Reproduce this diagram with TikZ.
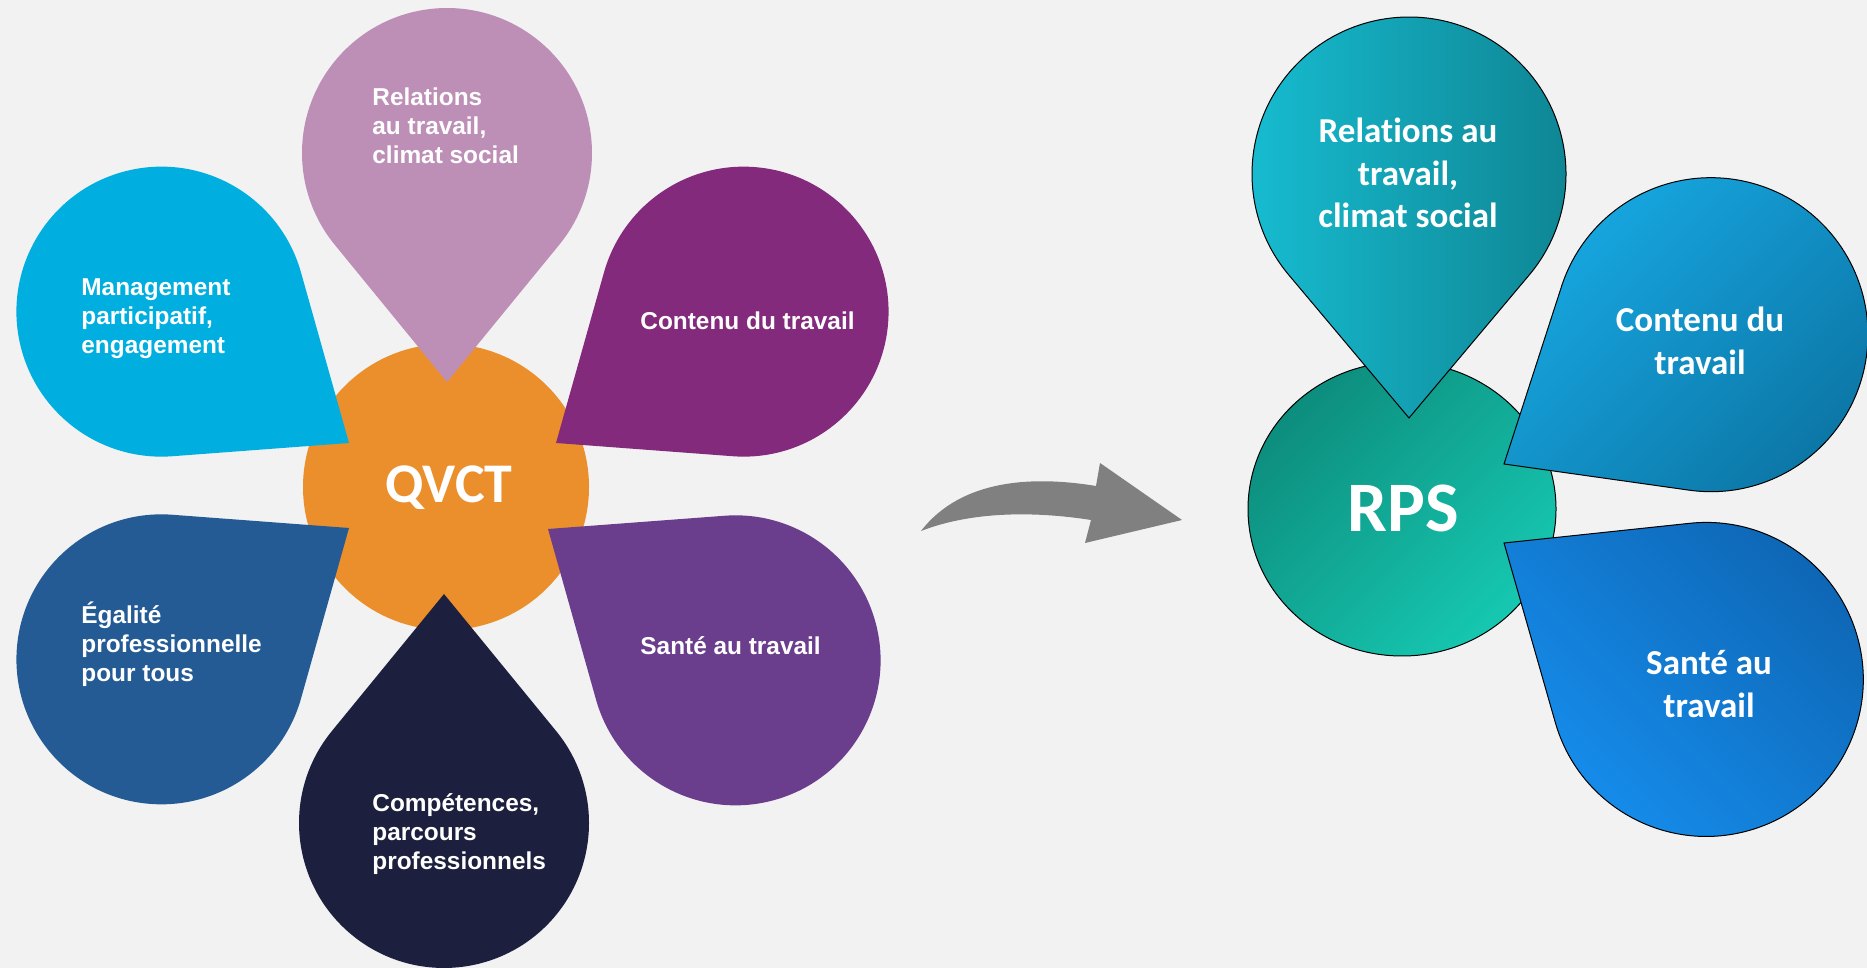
\documentclass[tikz,border=0pt]{standalone}
\usepackage{fontspec}
\newfontfamily\arialfont{Liberation Sans}
\newfontfamily\calibrifont{Carlito}[Ligatures={NoCommon}]
\usetikzlibrary{math}

\definecolor{bgcol}{HTML}{F2F2F2}
\definecolor{qvctorange}{HTML}{EB8F2D}
\definecolor{relcol}{HTML}{BD8FB6}
\definecolor{contcol}{HTML}{832A7C}
\definecolor{mgmtcol}{HTML}{00AEE0}
\definecolor{egalcol}{HTML}{245B95}
\definecolor{santecol}{HTML}{6A3E8C}
\definecolor{compcol}{HTML}{1C1F3E}
\definecolor{arrowgrey}{HTML}{808080}
\definecolor{rpsdark}{HTML}{0D8D7D}
\definecolor{rpslight}{HTML}{16C8B1}
\definecolor{relleft}{HTML}{17BDD2}
\definecolor{relright}{HTML}{0E8391}
\definecolor{contlight}{HTML}{17A9E3}
\definecolor{contdark}{HTML}{0C76A6}
\definecolor{santelight}{HTML}{168FEF}
\definecolor{santedark}{HTML}{0E66B4}

% drop with its tip at the origin, pointing back along the x axis
\newcommand{\droppath}[3]{(0,0) -- (-#3:{#1*cos(#3)}) arc[start angle={-90-#3}, end angle={90+#3}, radius=#2] -- cycle}

\tikzset{
  oldtext/.style={text=white, inner sep=0pt, align=left, anchor=base west,
    font=\arialfont\bfseries\fontsize{12.2}{14.4}\selectfont},
  newtext/.style={text=white, inner sep=0pt, align=center, anchor=base,
    font=\calibrifont\bfseries\fontsize{17.5}{21.25}\selectfont},
  newdrop/.style={draw=black, line width=0.5pt},
}

\begin{document}
\begin{tikzpicture}[x=0.5pt, y=0.5pt]
      \tikzmath{\distL = 229; \radL = 145; \tipL = asin(\radL/\distL);
                \distR = 244; \radR = 157; \tipR = asin(\radR/\distR);}
      \fill[bgcol] (0,0) rectangle (1867,968);
      \useasboundingbox (0,0) rectangle (1867,968);
      % QVCT flower
      \fill[qvctorange] (446,481) circle (143);
      \fill[relcol, shift={(447,586)}, rotate=90] \droppath{\distL}{\radL}{\tipL};
      \fill[contcol, shift={(556,525)}, rotate=35] \droppath{\distL}{\radL}{\tipL};
      \fill[mgmtcol, shift={(349,525)}, rotate=145] \droppath{\distL}{\radL}{\tipL};
      \fill[egalcol, shift={(349,440)}, rotate=215] \droppath{\distL}{\radL}{\tipL};
      \fill[santecol, shift={(548,439)}, rotate=-35] \droppath{\distL}{\radL}{\tipL};
      \fill[compcol, shift={(444,374)}, rotate=-90] \droppath{\distL}{\radL}{\tipL};
      \node[font=\calibrifont\bfseries\fontsize{28}{32}\selectfont, text=white, inner sep=0pt, anchor=base] (qvct) at (449,465) {QVCT};
      % base of a multi-line node = its last line
      \node[oldtext] (relations) at (372,804.4) {Relations\\au travail,\\climat social};
      \node[oldtext] (management) at (81,614.4) {Management\\participatif,\\engagement};
      \node[oldtext] (contenu) at (640,638) {Contenu du travail};
      \node[oldtext] (egalite) at (81,286.4) {Égalité\\professionnelle\\pour tous};
      \node[oldtext] (sante) at (640,313) {Santé au travail};
      \node[oldtext] (competences) at (372,98.4) {Compétences,\\parcours\\professionnels};
      % arrow
      \fill[arrowgrey] (921,437) .. controls (962,490) and (1035,492) .. (1096,482)
        -- (1100,505) -- (1182,448) -- (1085,425) -- (1091,448)
        .. controls (1040,456) and (975,458) .. (921,437) -- cycle;
      % RPS flower
      \path[newdrop, top color=rpsdark, bottom color=rpslight, shading angle=45] (1402,459) ellipse [x radius=154, y radius=147];
      \path[newdrop, left color=relleft, right color=relright, shift={(1409,550)}, rotate=90] \droppath{\distR}{\radR}{\tipR};
      \path[newdrop, top color=contlight, bottom color=contdark, shading angle=45, shift={(1504,504)}, rotate=32] \droppath{\distR}{\radR}{\tipR};
      \path[newdrop, top color=santedark, bottom color=santelight, shading angle=-45, shift={(1504,425)}, rotate=-34] \droppath{\distR}{\radR}{\tipR};
      \node[font=\calibrifont\bfseries\fontsize{35.5}{40}\selectfont, text=white, inner sep=0pt, anchor=base] (rps) at (1403,436) {RPS};
      \node[newtext] (relations2) at (1408,740) {Relations au\\travail,\\climat social};
      \node[newtext] (contenu2) at (1700,593.5) {Contenu du\\travail};
      \node[newtext] (sante2) at (1709,250.5) {Santé au\\travail};
\end{tikzpicture}
\end{document}
